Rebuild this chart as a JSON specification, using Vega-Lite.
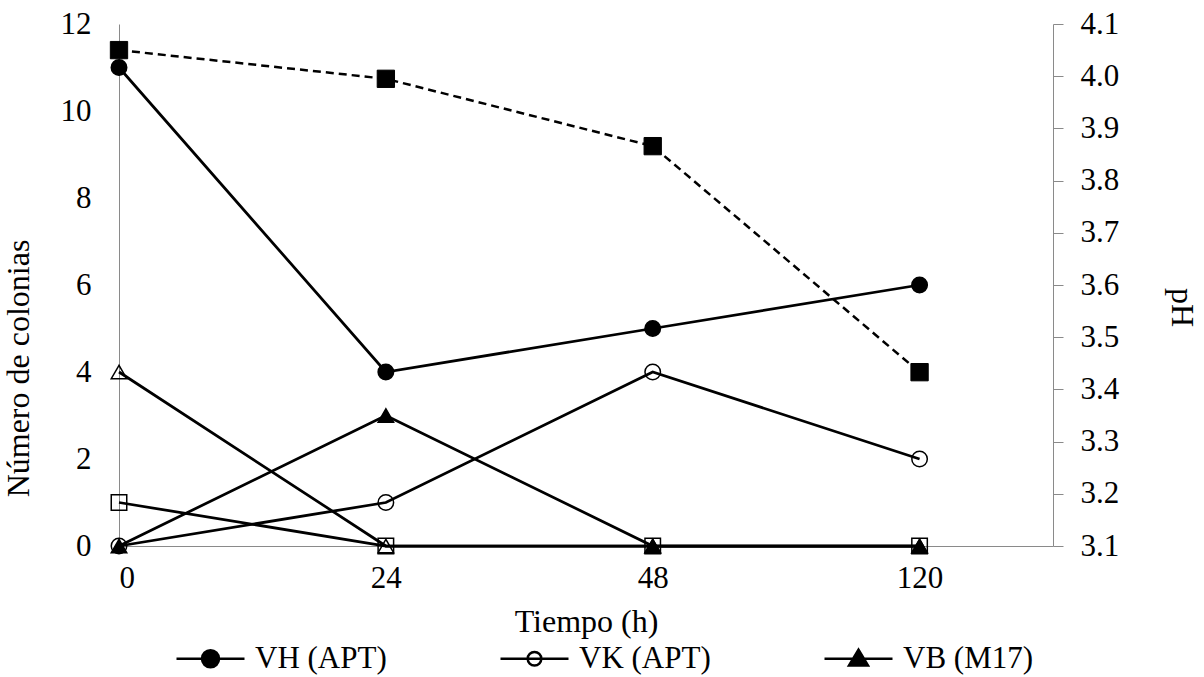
{
  "$schema": "https://vega.github.io/schema/vega-lite/v6.json",
  "width": 934,
  "height": 522,
  "autosize": {"type": "none"},
  "padding": {"left": 119, "top": 24, "right": 151, "bottom": 131},
  "background": "white",
  "config": {
    "view": {"stroke": null},
    "font": "Liberation Serif",
    "axis": {
      "labelFont": "Liberation Serif",
      "titleFont": "Liberation Serif",
      "labelFontSize": 31,
      "titleFontSize": 32,
      "titleFontWeight": "normal",
      "labelColor": "black",
      "titleColor": "black",
      "domainColor": "#8a8a8a",
      "domainWidth": 1,
      "tickColor": "#8a8a8a",
      "grid": false
    },
    "legend": {
      "labelFont": "Liberation Serif",
      "labelFontSize": 31,
      "labelColor": "black"
    }
  },
  "datasets": {
    "colonias": [
      {"series": "VH (APT)", "pos": 0, "value": 11},
      {"series": "VH (APT)", "pos": 1, "value": 4},
      {"series": "VH (APT)", "pos": 2, "value": 5},
      {"series": "VH (APT)", "pos": 3, "value": 6},
      {"series": "VK (APT)", "pos": 0, "value": 0},
      {"series": "VK (APT)", "pos": 1, "value": 1},
      {"series": "VK (APT)", "pos": 2, "value": 4},
      {"series": "VK (APT)", "pos": 3, "value": 2},
      {"series": "VH (M17)", "pos": 0, "value": 4},
      {"series": "VH (M17)", "pos": 1, "value": 0},
      {"series": "VH (M17)", "pos": 2, "value": 0},
      {"series": "VH (M17)", "pos": 3, "value": 0},
      {"series": "VK (M17)", "pos": 0, "value": 1},
      {"series": "VK (M17)", "pos": 1, "value": 0},
      {"series": "VK (M17)", "pos": 2, "value": 0},
      {"series": "VK (M17)", "pos": 3, "value": 0},
      {"series": "VB (M17)", "pos": 0, "value": 0},
      {"series": "VB (M17)", "pos": 1, "value": 3},
      {"series": "VB (M17)", "pos": 2, "value": 0},
      {"series": "VB (M17)", "pos": 3, "value": 0}
    ],
    "ph": [
      {"pos": 0, "ph": 4.05},
      {"pos": 1, "ph": 3.995},
      {"pos": 2, "ph": 3.866},
      {"pos": 3, "ph": 3.433}
    ]
  },
  "layer": [
    {
      "data": {"name": "colonias"},
      "mark": {"type": "line", "stroke": "black", "strokeWidth": 2.75},
      "encoding": {
        "x": {
          "field": "pos", "type": "quantitative",
          "scale": {"domain": [0, 3.5], "nice": false, "zero": false},
          "axis": {
            "title": "Tiempo (h)",
            "values": [0, 1, 2, 3],
            "labelExpr": "['0','24','48','120'][datum.value]",
            "ticks": false, "tickSize": 0,
            "labelPadding": 17,
            "titlePadding": 13
          }
        },
        "y": {
          "field": "value", "type": "quantitative",
          "scale": {"domain": [0, 12], "nice": false},
          "axis": {
            "title": "Número de colonias",
            "values": [0, 2, 4, 6, 8, 10, 12],
            "ticks": false, "tickSize": 0,
            "labelPadding": 28,
            "titlePadding": 25,
            "titleY": 344
          }
        },
        "detail": {"field": "series"}
      }
    },
    {
      "data": {"name": "colonias"},
      "mark": {"type": "point", "stroke": "black", "strokeWidth": 1.5, "opacity": 1, "size": 240},
      "encoding": {
        "x": {"field": "pos", "type": "quantitative"},
        "y": {"field": "value", "type": "quantitative", "scale": {"domain": [0, 12], "nice": false}, "axis": null},
        "shape": {
          "field": "series", "type": "nominal", "legend": null,
          "scale": {
            "domain": ["VH (APT)", "VK (APT)", "VB (M17)", "VH (M17)", "VK (M17)"],
            "range": ["circle", "circle", "triangle-up", "triangle-up", "square"]
          }
        },
        "fill": {
          "field": "series", "type": "nominal", "legend": null,
          "scale": {
            "domain": ["VH (APT)", "VK (APT)", "VB (M17)", "VH (M17)", "VK (M17)"],
            "range": ["black", "transparent", "black", "transparent", "transparent"]
          }
        }
      }
    },
    {
      "data": {"name": "ph"},
      "mark": {"type": "line", "stroke": "black", "strokeWidth": 2.5, "strokeDash": [8, 5]},
      "encoding": {
        "x": {"field": "pos", "type": "quantitative"},
        "y": {
          "field": "ph", "type": "quantitative",
          "scale": {"domain": [3.1, 4.1], "nice": false, "zero": false},
          "axis": {
            "orient": "right",
            "title": "pH",
            "values": [3.1, 3.2, 3.3, 3.4, 3.5, 3.6, 3.7, 3.8, 3.9, 4.0, 4.1],
            "format": ".1f",
            "ticks": true, "tickSize": 10,
            "labelPadding": 17,
            "titlePadding": 46,
            "titleY": 283
          }
        }
      }
    },
    {
      "data": {"name": "ph"},
      "mark": {"type": "point", "shape": "square", "filled": true, "fill": "black", "stroke": "black", "strokeWidth": 1, "opacity": 1, "size": 300},
      "encoding": {
        "x": {"field": "pos", "type": "quantitative"},
        "y": {"field": "ph", "type": "quantitative", "scale": {"domain": [3.1, 4.1], "nice": false, "zero": false}, "axis": null}
      }
    },
    {
      "data": {"values": []},
      "mark": {"type": "point", "stroke": "black", "strokeWidth": 2.5, "opacity": 1, "size": 1156},
      "encoding": {
        "shape": {
          "field": "leg", "type": "nominal",
          "scale": {
            "domain": ["VH (APT)", "VK (APT)", "VB (M17)"],
            "range": [
              "M-2,0H2M-0.5,0A0.5,0.5 0 1,1 0.5,0A0.5,0.5 0 1,1 -0.5,0Z",
              "M-2,0H2M-0.4,0A0.4,0.4 0 1,1 0.4,0A0.4,0.4 0 1,1 -0.4,0Z",
              "M-2,0H2M0,-0.54L0.56,0.4L-0.56,0.4Z"
            ]
          },
          "legend": {
            "orient": "none", "legendX": 73, "legendY": 616,
            "direction": "horizontal", "title": null,
            "symbolSize": 1156, "symbolStrokeWidth": 2.5, "symbolStrokeColor": "black",
            "symbolOpacity": 1,
            "labelOffset": 26, "columnPadding": 108, "padding": 0,
            "labelFontSize": 31, "labelFont": "Liberation Serif", "labelColor": "black",
            "encode": {"symbols": {"update": {"stroke": {"value": "black"}, "strokeWidth": {"value": 2.5}, "opacity": {"value": 1}}}}
          }
        },
        "fill": {
          "field": "leg", "type": "nominal",
          "scale": {
            "domain": ["VH (APT)", "VK (APT)", "VB (M17)"],
            "range": ["black", "transparent", "black"]
          },
          "legend": {
            "orient": "none", "legendX": 73, "legendY": 616,
            "direction": "horizontal", "title": null,
            "symbolSize": 1156, "symbolStrokeWidth": 2.5, "symbolStrokeColor": "black",
            "symbolOpacity": 1,
            "labelOffset": 26, "columnPadding": 108, "padding": 0,
            "labelFontSize": 31, "labelFont": "Liberation Serif", "labelColor": "black",
            "encode": {"symbols": {"update": {"stroke": {"value": "black"}, "strokeWidth": {"value": 2.5}, "opacity": {"value": 1}}}}
          }
        }
      }
    }
  ],
  "resolve": {"scale": {"y": "independent", "shape": "independent", "fill": "independent"}}
}
